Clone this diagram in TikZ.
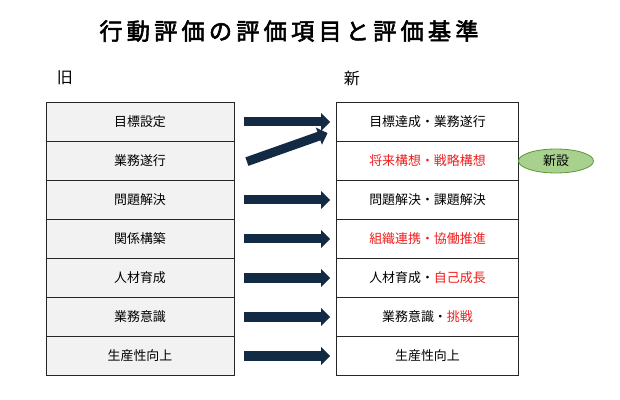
\documentclass[tikz,border=0pt]{standalone}
\usepackage{fontspec}
\setmainfont{Noto Sans CJK JP}
\usetikzlibrary{arrows.meta,shapes.geometric}
\definecolor{navy}{HTML}{132A45}
\definecolor{rowgray}{HTML}{F2F2F2}
\definecolor{newred}{HTML}{F01E1E}
\definecolor{leafgreen}{HTML}{A9D18E}
\definecolor{leafedge}{HTML}{5E9A3C}
\begin{document}
\begin{tikzpicture}[
    x=0.025cm, y=-0.025cm,
    oldrow/.style={draw=black!85, line width=0.6pt, fill=rowgray, minimum width=4.7cm, minimum height=0.975cm, inner sep=0pt, font=\fontsize{9.2}{11}\selectfont},
    newrow/.style={draw=black!85, line width=0.6pt, fill=white, minimum width=4.54cm, minimum height=0.975cm, inner sep=0pt, font=\fontsize{9.2}{11}\selectfont},
    bigarrow/.style={navy, line width=0.225cm, -{Triangle[length=0.23cm, width=0.44cm]}, shorten <=0.25cm, shorten >=0.15cm},
    tag/.style={ellipse, draw=leafedge, fill=leafgreen, line width=0.6pt, minimum width=1.875cm, minimum height=0.6cm, inner sep=0pt, font=\fontsize{9.2}{11}\selectfont}
]
    \useasboundingbox (0,0) rectangle (620,400);

    % Title
    \node[font=\fontsize{16.5}{18}\selectfont\addfontfeature{FakeBold=2.5,LetterSpace=18}] (title) at (289,31) {行動評価の評価項目と評価基準};

    % Headings
    \node[font=\fontsize{11.4}{13}\selectfont] (oldhead) at (65,78) {旧};
    \node[font=\fontsize{11.4}{13}\selectfont] (newhead) at (352,78) {新};

    % Old items
    \node[oldrow] (o1) at (140,122) {目標設定};
    \node[oldrow] (o2) at (140,161) {業務遂行};
    \node[oldrow] (o3) at (140,200) {問題解決};
    \node[oldrow] (o4) at (140,239) {関係構築};
    \node[oldrow] (o5) at (140,278) {人材育成};
    \node[oldrow] (o6) at (140,317) {業務意識};
    \node[oldrow] (o7) at (140,356) {生産性向上};

    % New items
    \node[newrow] (n1) at (427.5,122) {目標達成・業務遂行};
    \node[newrow] (n2) at (427.5,161) {\textcolor{newred}{将来構想・戦略構想}};
    \node[newrow] (n3) at (427.5,200) {問題解決・課題解決};
    \node[newrow] (n4) at (427.5,239) {\textcolor{newred}{組織連携・協働推進}};
    \node[newrow] (n5) at (427.5,278) {人材育成・\textcolor{newred}{自己成長}};
    \node[newrow] (n6) at (427.5,317) {業務意識・\textcolor{newred}{挑戦}};
    \node[newrow] (n7) at (427.5,356) {生産性向上};

    % New label
    \node[tag] (added) at (556,161) {新設};

    % Arrows
    \draw[bigarrow] (o1) -- (n1);
    \draw[bigarrow, shorten <=0.33cm, shorten >=0.23cm] ([yshift=-0.125cm]o2.east) -- ([yshift=-0.2cm]n1.west);
    \draw[bigarrow] (o3) -- (n3);
    \draw[bigarrow] (o4) -- (n4);
    \draw[bigarrow] (o5) -- (n5);
    \draw[bigarrow] (o6) -- (n6);
    \draw[bigarrow] (o7) -- (n7);
\end{tikzpicture}
\end{document}
